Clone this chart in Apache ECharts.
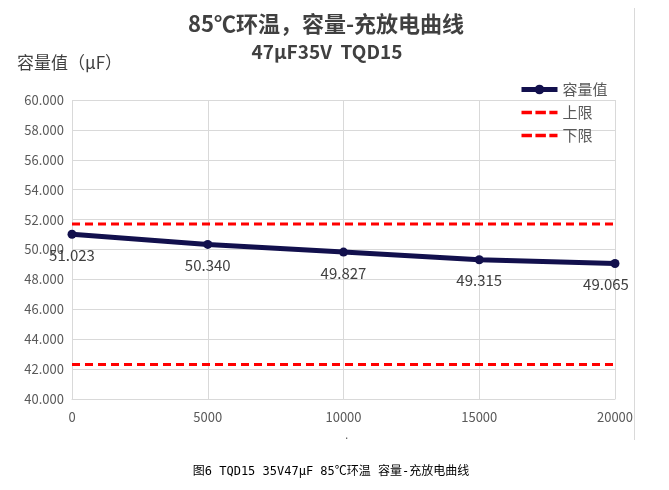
<!DOCTYPE html>
<html>
<head>
<meta charset="utf-8">
<script src="https://cdn.jsdelivr.net/npm/echarts@6/dist/echarts.min.js"></script>
<style>
  html, body { margin: 0; padding: 0; background: #fff; }
  #chart { width: 669px; height: 490px; }
</style>
</head>
<body>
<div id="chart"></div>
<script>
  // 数据
  var hours = [0, 5000, 10000, 15000, 20000];
  var capacity = [51.023, 50.340, 49.827, 49.315, 49.065];
  var upperLimit = [51.7, 51.7, 51.7, 51.7, 51.7];
  var lowerLimit = [42.3, 42.3, 42.3, 42.3, 42.3];

  function pairs(xs, ys) {
      return xs.map(function (x, i) { return [x, ys[i]]; });
  }

  var font = '"Noto Sans CJK SC", "Noto Sans", sans-serif';
  var dashIcon = 'path://M0,0h9v3h-9z M12,0h9v3h-9z M24,0h7v3h-7z';
  var chart = echarts.init(document.getElementById('chart'));

  // 最后一个标签往左挪一点，和原图一样
  var capData = pairs(hours, capacity).map(function (p, i, arr) {
      if (i === arr.length - 1) {
          return { value: p, label: { offset: [-9, 0] } };
      }
      return p;
  });

  var option = {
      animation: false,
      textStyle: { fontFamily: font },
      title: [{
          text: '85℃环温，容量-充放电曲线',
          left: 321,
          top: 8,
          textAlign: 'center',
          textStyle: { fontSize: 22, fontWeight: 'bold', color: '#404040', fontFamily: font }
      }, {
          text: '47µF35V  TQD15',
          left: 322,
          top: 37,
          textAlign: 'center',
          textStyle: { fontSize: 19, fontWeight: 'bold', color: '#404040', fontFamily: font }
      }, {
          text: '图6 TQD15 35V47μF 85℃环温 容量-充放电曲线',
          left: 326,
          top: 461,
          textAlign: 'center',
          textStyle: {
              fontSize: 12,
              fontWeight: 'normal',
              color: '#000',
              fontFamily: '"DejaVu Sans Mono", "Noto Sans CJK SC", monospace'
          }
      }],
      legend: {
          orient: 'vertical',
          left: 514,
          top: 77,
          itemWidth: 36,
          itemHeight: 12,
          itemGap: 8,
          textStyle: { fontSize: 15, color: '#595959' },
          data: [
              { name: '容量值', lineStyle: { width: 5 } },
              { name: '上限', icon: dashIcon, itemStyle: { color: '#ff0000' } },
              { name: '下限', icon: dashIcon, itemStyle: { color: '#ff0000' } }
          ]
      },
      grid: { left: 72, right: 54, top: 100, bottom: 91 },
      xAxis: {
          type: 'value',
          min: 0,
          max: 20000,
          interval: 5000,
          axisLine: { lineStyle: { color: '#d9d9d9' } },
          axisTick: { show: false },
          axisLabel: {
              color: '#595959',
              fontSize: 13,
              margin: 12,
              formatter: function (v) { return String(v); }
          },
          splitLine: { lineStyle: { color: '#d9d9d9' } }
      },
      yAxis: {
          type: 'value',
          name: '容量值（µF）',
          nameLocation: 'end',
          nameGap: 29,
          nameTextStyle: { fontSize: 17, color: '#404040', align: 'left', padding: [0, 0, 0, -55] },
          min: 40,
          max: 60,
          interval: 2,
          axisLine: { show: false },
          axisTick: { show: false },
          axisLabel: {
              color: '#595959',
              fontSize: 13,
              margin: 8,
              formatter: function (v) { return v.toFixed(3); }
          },
          splitLine: { lineStyle: { color: '#d9d9d9' } }
      },
      series: [{
          name: '容量值',
          type: 'line',
          data: capData,
          symbol: 'circle',
          symbolSize: 9,
          lineStyle: { width: 5, color: '#12104d' },
          itemStyle: { color: '#12104d' },
          label: {
              show: true,
              position: 'bottom',
              distance: 9,
              fontSize: 15,
              color: '#404040',
              formatter: function (p) { return p.value[1].toFixed(3); }
          },
          z: 3
      }, {
          name: '上限',
          type: 'line',
          data: pairs(hours, upperLimit),
          symbol: 'none',
          lineStyle: { width: 3, color: '#ff0000', type: [8, 5] },
          itemStyle: { color: '#ff0000' }
      }, {
          name: '下限',
          type: 'line',
          data: pairs(hours, lowerLimit),
          symbol: 'none',
          lineStyle: { width: 3, color: '#ff0000', type: [8, 5] },
          itemStyle: { color: '#ff0000' }
      }],
      graphic: [{
          type: 'line',
          shape: { x1: 634.5, y1: 8, x2: 634.5, y2: 440 },
          style: { stroke: '#d9d9d9', lineWidth: 1 }
      }, {
          type: 'text',
          left: 345,
          top: 430,
          style: { text: '.', fontSize: 12, fill: '#595959' }
      }]
  };

  chart.setOption(option);
</script>
</body>
</html>
